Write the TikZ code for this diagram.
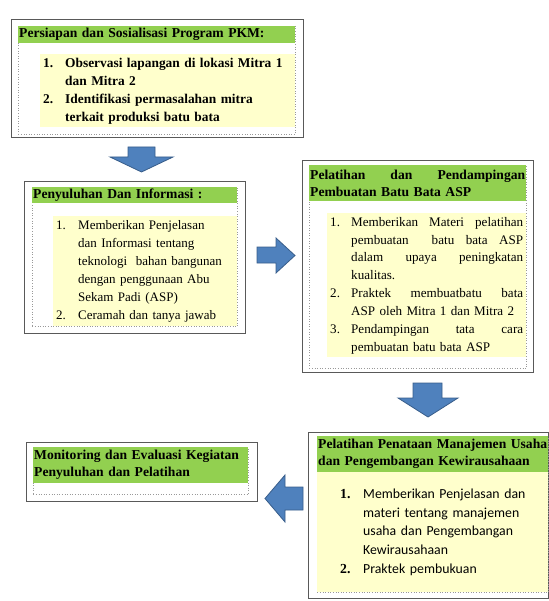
\documentclass[tikz,border=0pt]{standalone}
\usepackage{fontspec}
\setmainfont{Liberation Serif}
\newfontfamily\calfont{Carlito}
\definecolor{hdrgreen}{HTML}{92D050}
\definecolor{lstyellow}{HTML}{FFFFCC}
\definecolor{arrblue}{HTML}{4F81BD}
\definecolor{arrline}{HTML}{385D8A}

\begin{document}
\begin{tikzpicture}[
  x=1pt, y=-1pt,
  outer/.style={draw=black!65, line width=1.1pt, anchor=north west, inner sep=0pt},
  frm/.style  ={draw=black!40, dotted, line width=0.6pt, anchor=north west, inner sep=0pt},
  hdr/.style  ={fill=hdrgreen, anchor=north west, align=left, inner xsep=1pt, inner ysep=0pt, font=\fontsize{13.6}{17}\selectfont\bfseries},
  lst/.style  ={fill=lstyellow, anchor=north west, align=left, inner xsep=3pt, inner ysep=0pt},
  blk/.style  ={fill=arrblue, draw=arrline, line width=0.8pt, line join=miter},
]
\useasboundingbox (0,0) rectangle (548,601);

% ---------- step 1: persiapan ----------
\node[outer, minimum width=292, minimum height=118] (b1) at (11,19) {};
\node[frm, minimum width=277, minimum height=108] (f1) at (18,26) {};
\node[hdr, text width=275, minimum height=17] (h1) at (18,26) {Persiapan dan Sosialisasi Program PKM:};
\node[lst, text width=249, minimum height=73, font=\fontsize{13.4}{18}\selectfont\bfseries] (l1) at (40,54)
  {\begin{tabular}{@{}p{22pt}@{}l@{}}
   1. & Observasi lapangan di lokasi Mitra 1\\
      & dan Mitra 2\\
   2. & Identifikasi permasalahan mitra\\
      & terkait produksi batu bata
   \end{tabular}};

% ---------- step 2: penyuluhan ----------
\node[outer, minimum width=221, minimum height=152] (b2) at (24,181) {};
\node[frm, minimum width=205, minimum height=139] (f2) at (32,187) {};
\node[hdr, text width=203, minimum height=16] (h2) at (32,187) {Penyuluhan Dan Informasi :};
\node[lst, text width=178, minimum height=110, font=\fontsize{13}{18}\selectfont] (l2) at (53,216)
  {\begin{tabular}{@{}p{22pt}@{}l@{}}
   1. & Memberikan Penjelasan\\
      & dan Informasi tentang\\
      & teknologi\ \ bahan bangunan\\
      & dengan penggunaan Abu\\
      & Sekam Padi (ASP)\\
   2. & Ceramah dan tanya jawab
   \end{tabular}};

% ---------- step 3: pelatihan batu bata ----------
\node[outer, minimum width=231, minimum height=212] (b3) at (302,160) {};
\node[frm, minimum width=217, minimum height=203] (f3) at (309,165) {};
\node[hdr, text width=215, minimum height=36] (h3) at (309,165)
  {\hbox to 215pt{Pelatihan\hfill dan\hfill Pendampingan}\\Pembuatan Batu Bata ASP};
\node[lst, text width=193, minimum height=144, font=\fontsize{13.1}{17.9}\selectfont] (l3) at (327,213)
  {\begin{tabular}{@{}p{21pt}@{}l@{}}
   1. & \hbox to 172pt{Memberikan\hfill Materi\hfill pelatihan}\\
      & \hbox to 172pt{pembuatan\hfill\hfill batu\hfill bata\hfill ASP}\\
      & \hbox to 172pt{dalam\hfill upaya\hfill peningkatan}\\
      & kualitas.\\
   2. & \hbox to 172pt{Praktek\hfill membuatbatu\hfill bata}\\
      & ASP oleh Mitra 1 dan Mitra 2\\
   3. & \hbox to 172pt{Pendampingan\hfill tata\hfill cara}\\
      & pembuatan batu bata ASP
   \end{tabular}};

% ---------- step 4: manajemen usaha ----------
\node[outer, minimum width=239.5, minimum height=166] (b4) at (308,432) {};
\node[frm, minimum width=231, minimum height=156] (f4) at (317,436) {};
\node[hdr, text width=229, minimum height=36] (h4) at (317,436)
  {Pelatihan Penataan Manajemen Usaha\\dan Pengembangan Kewirausahaan};
\node[lst, inner xsep=23pt, text width=185, minimum height=120, font=\fontsize{13.8}{18.8}\selectfont] (l4) at (317,472)
  {\begin{tabular}{@{}p{23pt}@{}l@{}}
   \textbf{1.} & {\calfont Memberikan Penjelasan dan}\\
               & {\calfont materi tentang manajemen}\\
               & {\calfont usaha dan Pengembangan}\\
               & {\calfont Kewirausahaan}\\
   \textbf{2.} & {\calfont Praktek pembukuan}
   \end{tabular}};

% ---------- step 5: monitoring ----------
\node[outer, minimum width=231, minimum height=59] (b5) at (26,442) {};
\node[frm, minimum width=215, minimum height=47] (f5) at (33,447) {};
\node[hdr, text width=213, minimum height=36] (h5) at (33,447)
  {Monitoring dan Evaluasi Kegiatan\\Penyuluhan dan Pelatihan};

% ---------- block arrows between the steps ----------
\draw[blk] (128,147) -- (155,147) -- (155,157) -- (173,157) -- (141.5,172) -- (110,157) -- (128,157) -- cycle;
\draw[blk] (257,247) -- (276,247) -- (276,238) -- (295,255.5) -- (276,273) -- (276,263) -- (257,263) -- cycle;
\draw[blk] (413,383) -- (442,383) -- (442,398) -- (458,398) -- (428,417) -- (398,398) -- (413,398) -- cycle;
\draw[blk] (303,487) -- (285,487) -- (285,475) -- (265,498.5) -- (285,522) -- (285,510) -- (303,510) -- cycle;

\end{tikzpicture}
\end{document}
